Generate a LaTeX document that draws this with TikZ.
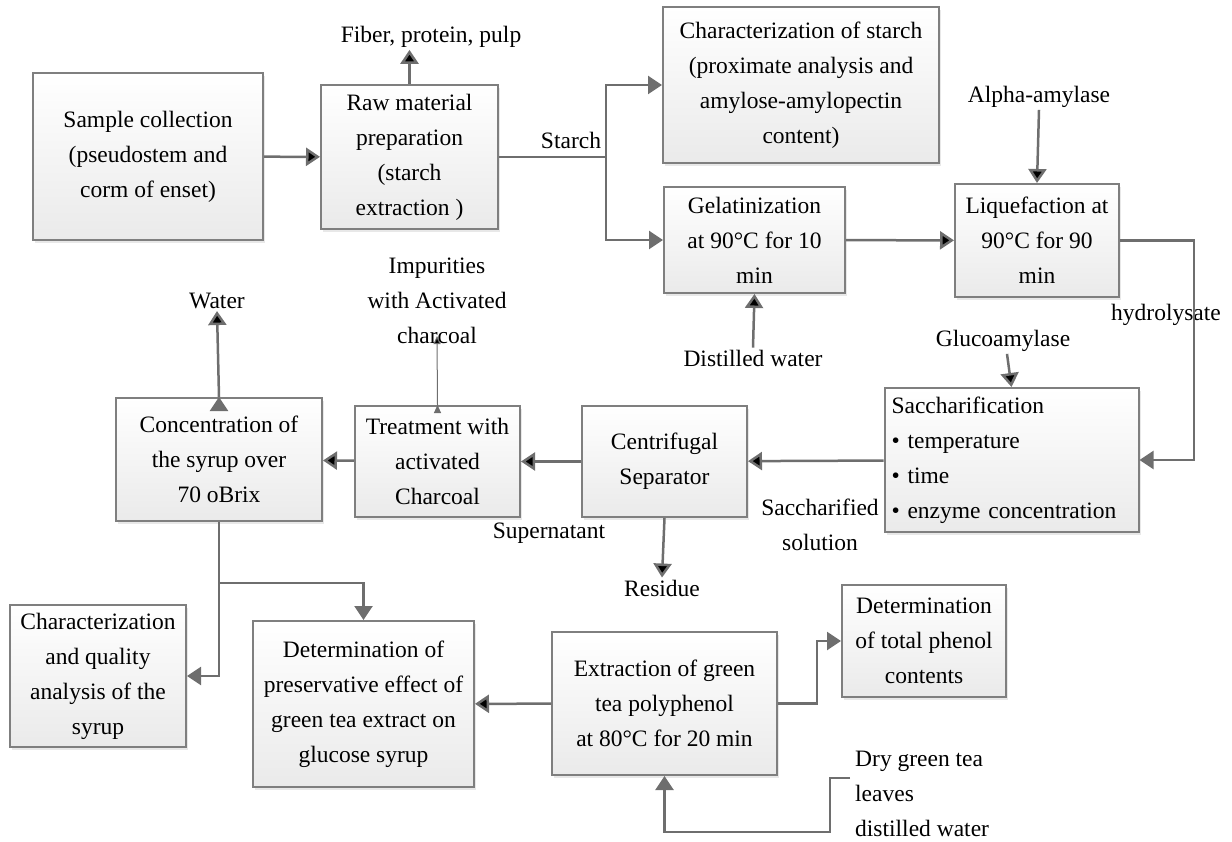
\documentclass[tikz,border=0pt]{standalone}
\usepackage{fontspec}
\setmainfont{Liberation Serif}
\usetikzlibrary{positioning, calc, arrows.meta, shadows}
\definecolor{linegray}{HTML}{6E6E6E}
\definecolor{boxgray}{HTML}{7F7F7F}
\definecolor{fillbottom}{HTML}{EAEAEA}
\tikzset{
  every node/.append style = {font = \fontsize{23.5}{35}\selectfont},
  > = {Triangle[length = 14pt, width = 18pt]},
  process/.style = {draw = boxgray, line width = 2pt, align = center,
    top color = white, bottom color = fillbottom, inner sep = 4pt,
    drop shadow = {shadow xshift = 2pt, shadow yshift = -3pt, fill = black!18}},
  box/.style n args = {2}{process, minimum width = #1, minimum height = #2},
  note/.style = {inner sep = 2pt, align = center},
  flow/.style = {->, draw = linegray, line width = 2.5pt},
  thinflow/.style = {-{Triangle[length = 8pt, width = 7pt]}, draw = linegray, line width = 1pt},
  link/.style = {draw = linegray, line width = 2.5pt}
}

\begin{document}
\begin{tikzpicture}[x = 1pt, y = -1pt]
\useasboundingbox (0,0) rectangle (1232,842);

%% Top row
\node [box = {230pt}{167pt}] (sample) at (148,156.5)
  {Sample collection\\(pseudostem and\\corm of enset)};
\node [box = {177pt}{144pt}] (raw) at (409.5,157)
  {Raw material\\preparation\\(starch\\extraction )};
\node [box = {276pt}{156pt}] (charstarch) at (801,85)
  {Characterization of starch\\(proximate analysis and\\amylose-amylopectin\\content)};
\node [box = {181pt}{106pt}] (gel) at (754.5,240)
  {Gelatinization\\at 90°C for 10\\min};
\node [box = {164pt}{113pt}] (liq) at (1037,240.5)
  {Liquefaction at\\90°C for 90\\min};

%% Middle row
\node [process, align = left, text width = 240pt, inner xsep = 7pt,
  minimum height = 144pt] (sacch) at (1011.5,460)
  {Saccharification\\\textbullet\ temperature\\\textbullet\ time\\\textbullet\ enzyme concentration};
\node [box = {165pt}{111pt}] (centri) at (664.5,461.5)
  {Centrifugal\\Separator};
\node [box = {165pt}{111pt}] (treat) at (437.5,461.5)
  {Treatment with\\activated\\Charcoal};
\node [box = {206pt}{123pt}] (conc) at (219,459.5)
  {Concentration of\\the syrup over\\70 oBrix};

%% Bottom row
\node [box = {176pt}{142pt}] (charsyrup) at (98,676)
  {Characterization\\and quality\\analysis of the\\syrup};
\node [box = {221pt}{166pt}] (preserv) at (363.5,704)
  {Determination of\\preservative effect of\\green tea extract on\\glucose syrup};
\node [box = {225pt}{143pt}] (extract) at (664.5,703.5)
  {Extraction of green\\tea polyphenol\\at 80°C for 20 min};
\node [box = {164pt}{112pt}] (phenol) at (924,641)
  {Determination\\of total phenol\\contents};

%% Inputs and outputs
\node [note] (fiber) at (431,37) {Fiber, protein, pulp};
\node [note] (starch) at (571,140) {Starch};
\node [note] (alpha) at (1039,97) {Alpha-amylase};
\node [note] (distw) at (753,358) {Distilled water};
\node [note] (hydro) at (1166,315) {hydrolysate};
\node [note] (gluco) at (1003,341) {Glucoamylase};
\node [note] (saccsol) at (820,525) {Saccharified\\solution};
\node [note] (residue) at (662,588) {Residue};
\node [note] (super) at (549,533) {Supernatant};
\node [note] (impur) at (437,301) {Impurities\\with Activated\\charcoal};
\node [note] (water) at (217,301) {Water};
\node [note, align = left, anchor = west] (dry) at (853,794)
  {Dry green tea\\leaves\\ distilled water};

%% Helper points
\coordinate (split) at (606,157);
\coordinate (branch) at (conc.south |- 0,583);
\coordinate (drytip) at (850,778);
\coordinate (drycorner) at (830,832);

%% Main line
\path [flow] (sample) edge (raw)
             (gel) edge (liq)
             (sacch) edge (centri)
             (centri) edge (treat)
             (treat) edge (conc)
             (extract) edge (preserv);
\draw [link] (raw.east) -- (split);
\draw [flow] (split) |- (charstarch.west);
\draw [flow] (split) |- (gel.west);
\draw [flow] (liq.east) -- ++(74,0) |- (sacch.east);
\draw [flow] (conc.south) |- (charsyrup.east);
\draw [flow] (branch) -| (preserv.north);
\draw [flow] (extract.east) -- ++(39,0) |- (phenol.west);

%% Side streams
\path [flow] (raw.north) edge (raw.north |- fiber.south)
             (alpha.south) edge (liq.north)
             (distw.north) edge (gel.south)
             ([xshift = 4pt] gluco.south) edge (sacch.north)
             (centri.south) edge (residue.north)
             (conc.north) edge (water.south);
\path [thinflow] (treat.north) edge ([yshift = 10pt] impur.south);
\draw [flow] (drytip) -| (drycorner) -| (extract.south);

\end{tikzpicture}
\end{document}
